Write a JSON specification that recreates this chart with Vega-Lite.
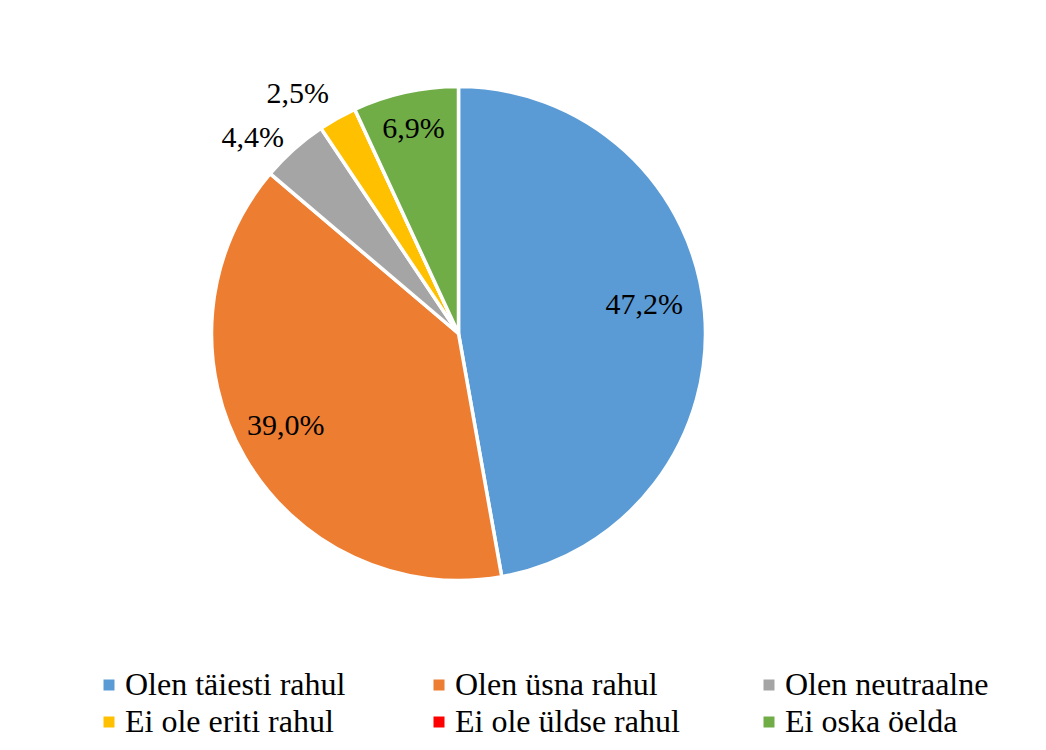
{
  "$schema": "https://vega.github.io/schema/vega-lite/v6.json",
  "autosize": {"type": "none"},
  "padding": {"left": 9, "top": 11, "right": 138, "bottom": 95},
  "width": 899,
  "height": 645,
  "background": "white",
  "config": {
    "view": {"stroke": null},
    "font": "Liberation Serif",
    "text": {"font": "Liberation Serif", "fontSize": 30, "color": "black", "baseline": "middle"}
  },
  "data": {
    "values": [
      {"category": "Olen täiesti rahul", "value": 47.2, "label": "47,2%", "order": 1},
      {"category": "Olen üsna rahul", "value": 39.0, "label": "39,0%", "order": 2},
      {"category": "Olen neutraalne", "value": 4.4, "label": "4,4%", "order": 3},
      {"category": "Ei ole eriti rahul", "value": 2.5, "label": "2,5%", "order": 4},
      {"category": "Ei ole üldse rahul", "value": 0, "label": "0,0%", "order": 5},
      {"category": "Ei oska öelda", "value": 6.9, "label": "6,9%", "order": 6}
    ]
  },
  "encoding": {
    "theta": {"field": "value", "type": "quantitative", "stack": true},
    "order": {"field": "order", "type": "quantitative", "sort": "ascending"}
  },
  "layer": [
    {
      "mark": {"type": "arc", "outerRadius": 247, "stroke": "white", "strokeWidth": 3.5},
      "encoding": {
        "color": {
          "field": "category",
          "type": "nominal",
          "scale": {
            "domain": ["Olen täiesti rahul", "Olen üsna rahul", "Olen neutraalne", "Ei ole eriti rahul", "Ei ole üldse rahul", "Ei oska öelda"],
            "range": ["#5B9BD5", "#ED7D31", "#A5A5A5", "#FFC000", "#FF0000", "#70AD47"]
          },
          "sort": null,
          "legend": {
            "title": null,
            "orient": "none",
            "legendX": 84,
            "legendY": 658,
            "direction": "horizontal",
            "columns": 3,
            "gridAlign": "all",
            "columnPadding": 73,
            "rowPadding": 5,
            "symbolType": "square",
            "symbolSize": 121,
            "symbolStrokeWidth": 0,
            "labelFont": "Liberation Serif",
            "labelFontSize": 32,
            "labelColor": "black",
            "labelOffset": 0,
            "labelLimit": 400
          }
        }
      }
    },
    {
      "mark": {"type": "text", "radius": 188, "thetaOffset": -0.064, "align": "center"},
      "encoding": {
        "text": {"condition": {"test": "datum.value > 40", "field": "label"}, "value": ""}
      }
    },
    {
      "mark": {"type": "text", "radius": 196, "thetaOffset": 0.03, "align": "center"},
      "encoding": {
        "text": {"condition": {"test": "datum.value > 30 && datum.value <= 40", "field": "label"}, "value": ""}
      }
    },
    {
      "mark": {"type": "text", "radius": 209, "align": "center"},
      "encoding": {
        "text": {"condition": {"test": "datum.value > 5 && datum.value <= 30", "field": "label"}, "value": ""}
      }
    },
    {
      "mark": {"type": "text", "radius": 262, "align": "right"},
      "encoding": {
        "text": {"condition": {"test": "datum.value > 3 && datum.value <= 5", "field": "label"}, "value": ""}
      }
    },
    {
      "mark": {"type": "text", "radius": 272, "thetaOffset": 0.016, "align": "right"},
      "encoding": {
        "text": {"condition": {"test": "datum.value > 0 && datum.value <= 3", "field": "label"}, "value": ""}
      }
    }
  ]
}
